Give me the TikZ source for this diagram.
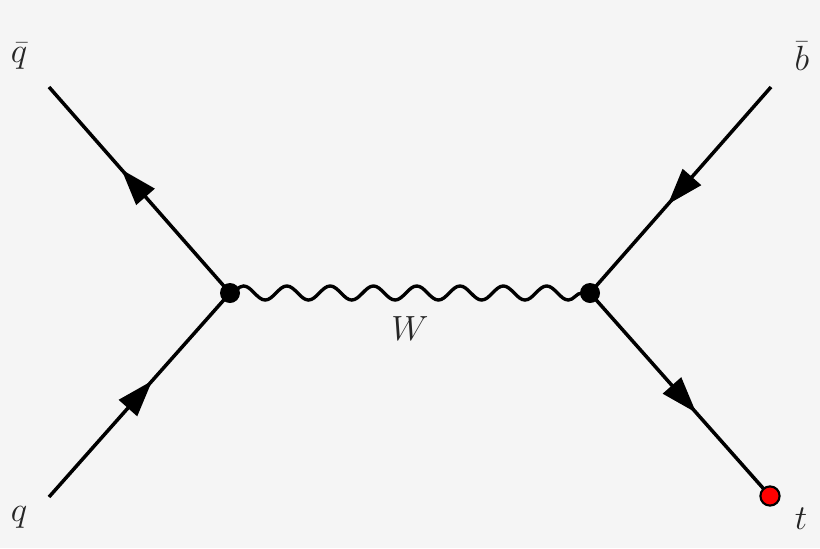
\documentclass[tikz,border=0pt]{standalone}
\usetikzlibrary{decorations.pathmorphing, decorations.markings, arrows.meta}
\definecolor{bgcol}{HTML}{F5F5F5}
\begin{document}
\begin{tikzpicture}[x=0.25mm, y=-0.25mm,
		fermion/.style={line width=2.5pt, postaction={decorate}, decoration={markings, mark=at position #1 with {\arrow{Triangle[length=26pt, width=17pt]}}}},
		fermion/.default=0.58,
		boson/.style={line width=2.4pt, decorate, decoration={snake, segment length=30.8pt, amplitude=5pt}},
		vtx/.style={circle, fill=black, inner sep=0pt, minimum size=5mm},
		topdot/.style={circle, fill=red, draw=black, line width=1.5pt, inner sep=0pt, minimum size=4.8mm},
		lbl/.style={text=black!85, font=\fontsize{32}{38}\selectfont}]
	\fill[bgcol] (0,0) rectangle (820,548);
	\useasboundingbox (0,0) rectangle (820,548);
	
	\coordinate (L) at (230,293);
	\coordinate (R) at (590,293);
	\coordinate (qb) at (49,87);
	\coordinate (q) at (49,497);
	\coordinate (bb) at (771,87);
	\coordinate (t) at (770,496);
	
	\draw[fermion=0.6] (L) -- (qb);
	\draw[fermion=0.57] (q) -- (L);
	\draw[fermion=0.57] (bb) -- (R);
	\draw[fermion=0.59] (R) -- (t);
	\draw[boson] (L) -- (R);
	
	\node[vtx] (vL) at (L) {};
	\node[vtx] (vR) at (R) {};
	\node[topdot] (tdot) at (t) {};
	
	\node[lbl] (lqb) at (19,56) {$\bar{q}$};
	\node[lbl] (lq) at (19,517) {$q$};
	\node[lbl] (lbb) at (802,56) {$\bar{b}$};
	\node[lbl] (lt) at (801,519) {$t$};
	\node[lbl] (lW) at (410,329) {$W$};
\end{tikzpicture}
\end{document}
